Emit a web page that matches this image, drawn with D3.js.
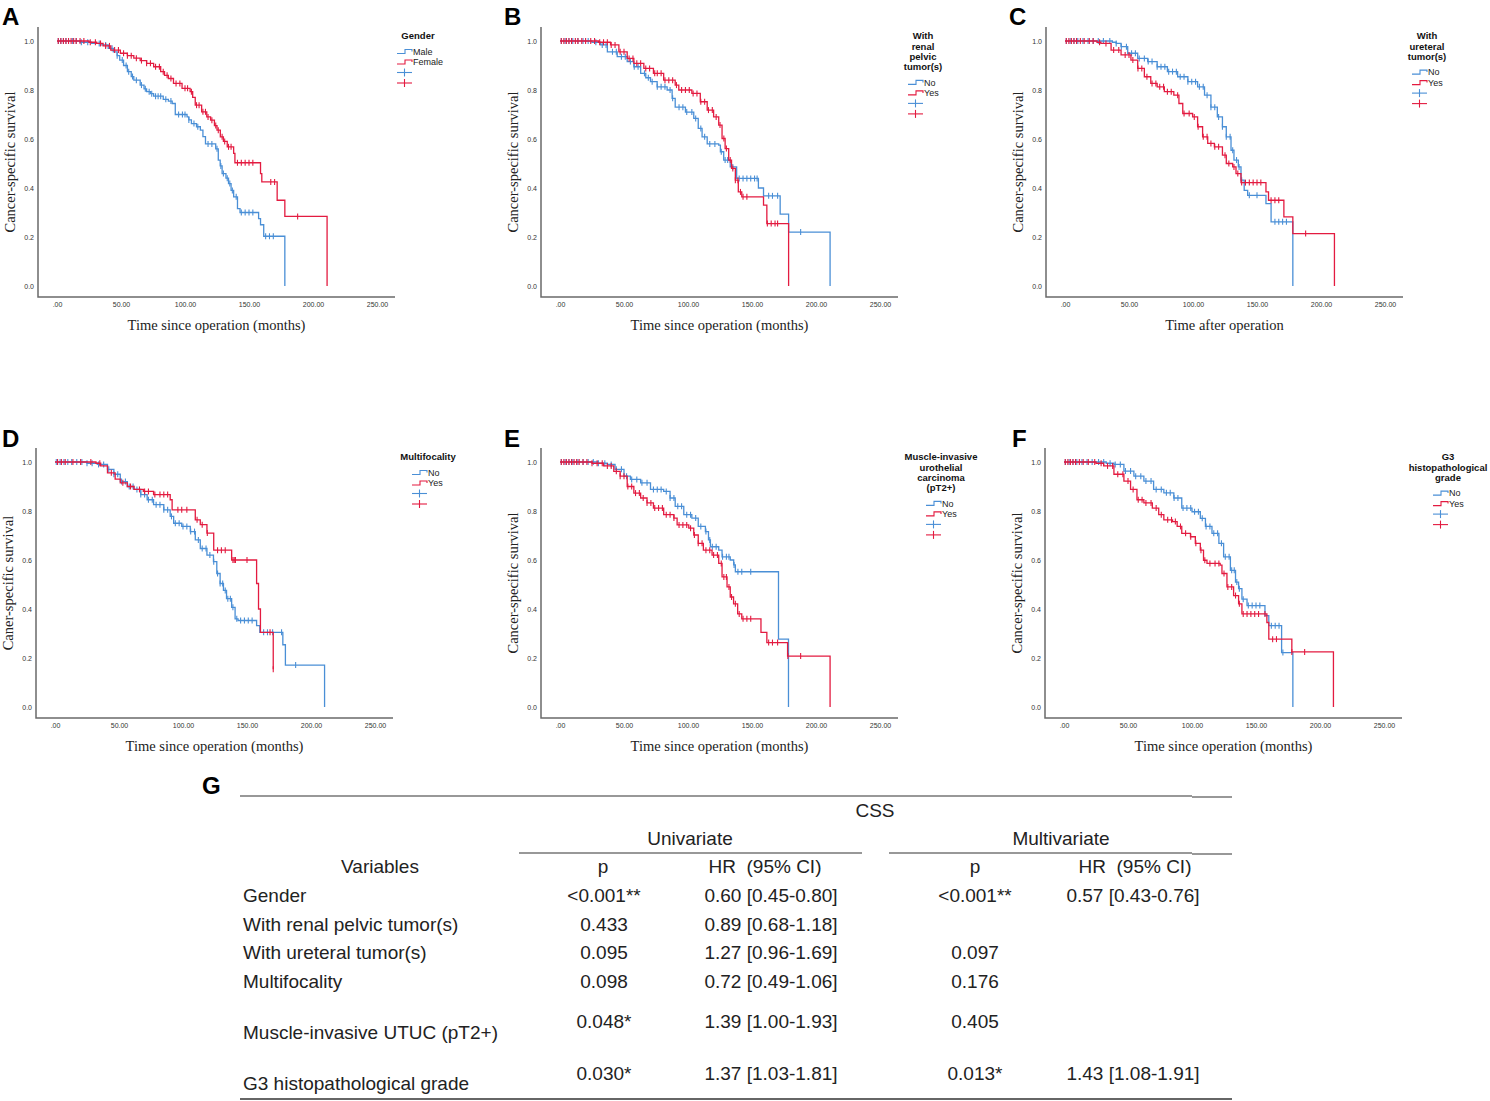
<!DOCTYPE html>
<html>
<head>
<meta charset="utf-8">
<script src="https://cdn.jsdelivr.net/npm/d3@7"></script>
<style>
  body { margin: 0; background: #fff; }
  svg text { font-family: "Liberation Sans", Arial, sans-serif; }
  svg text.serif { font-family: "Liberation Serif", "Times New Roman", serif; }
</style>
</head>
<body>
<svg id="fig" width="1490" height="1101"></svg>
<script>
// axis ticks
const xTicks = [0, 50, 100, 150, 200, 250];
const xTickLabels = [".00", "50.00", "100.00", "150.00", "200.00", "250.00"];
const yTicks = [0, 0.2, 0.4, 0.6, 0.8, 1.0];
const yTickLabels = ["0.0", "0.2", "0.4", "0.6", "0.8", "1.0"];

// survival steps: [month, survival after drop]
const aMale = [[0,1],[18,0.995],[27,0.99],[34,0.984],[40,0.97],[44,0.956],[47,0.94],[49,0.922],[52,0.9],[55,0.875],[58,0.855],[60,0.84],[65,0.82],[68,0.805],[70,0.793],[73,0.785],[75.5,0.775],[83,0.762],[87,0.755],[90,0.745],[92.4,0.70],[101.6,0.69],[103,0.678],[105,0.663],[109,0.65],[112,0.636],[114,0.61],[116,0.58],[124,0.56],[126,0.514],[127.5,0.49],[129,0.459],[132,0.44],[134,0.418],[136,0.39],[138,0.364],[141,0.316],[143,0.30],[157.5,0.275],[159,0.25],[161.5,0.203],[178,0]];
const aFemale = [[0,1],[25,0.995],[31,0.99],[36,0.98],[42,0.963],[49.5,0.95],[55,0.94],[60,0.93],[65,0.92],[70,0.909],[75.5,0.895],[81,0.875],[84,0.86],[87,0.847],[91,0.827],[97.7,0.807],[104,0.793],[106,0.77],[108,0.738],[113,0.711],[117,0.69],[120,0.677],[123,0.655],[125,0.636],[127.6,0.609],[130,0.59],[133,0.568],[138,0.541],[139,0.503],[159,0.459],[160,0.425],[172,0.35],[178,0.284],[211,0]];
const bNo = [[0,1],[25,0.995],[31.7,0.984],[37,0.956],[44.7,0.936],[52.5,0.916],[57.7,0.895],[63,0.868],[67,0.85],[70.7,0.834],[75.9,0.813],[83.7,0.80],[87.6,0.766],[90,0.73],[98,0.71],[104.5,0.684],[108,0.643],[111,0.609],[115,0.58],[124,0.575],[125.3,0.548],[127.9,0.514],[133,0.486],[138,0.439],[155,0.40],[159,0.368],[172,0.293],[178.6,0.22],[211,0]];
const bYes = [[0,1],[30,0.995],[39.5,0.984],[46,0.956],[52.5,0.929],[57.7,0.909],[65.5,0.888],[73,0.868],[81,0.84],[90,0.82],[92.8,0.80],[103,0.786],[109.6,0.752],[115,0.718],[120,0.69],[124,0.657],[126.6,0.602],[129,0.561],[131.8,0.514],[134,0.48],[137,0.432],[139.3,0.384],[142,0.364],[159,0.33],[161.6,0.255],[178.6,0]];
const cNo = [[0,1],[37,0.995],[40,0.99],[43.8,0.977],[49,0.95],[56.8,0.929],[64.6,0.916],[72,0.895],[80,0.875],[88,0.854],[96,0.834],[103.6,0.813],[109,0.779],[114,0.73],[119,0.69],[123,0.65],[126,0.609],[129.7,0.554],[132,0.514],[135.4,0.486],[137.5,0.432],[140,0.39],[142.7,0.37],[157,0.336],[161,0.262],[178,0]];
const cYes = [[0,1],[25,0.995],[28,0.99],[36,0.963],[43.8,0.943],[51.5,0.922],[56.8,0.888],[62,0.854],[67,0.827],[72,0.813],[77.6,0.793],[85,0.779],[89,0.745],[92,0.704],[99.7,0.69],[103.6,0.65],[107.5,0.609],[111.5,0.582],[116.7,0.568],[123,0.534],[126,0.50],[131,0.486],[133.6,0.459],[137.5,0.422],[157,0.384],[159,0.35],[171,0.282],[178,0.214],[210.5,0]];
const dNo = [[0,1],[25,0.995],[33,0.99],[41,0.97],[46,0.95],[51,0.92],[56.5,0.90],[61.7,0.888],[67,0.867],[72,0.846],[77,0.826],[85,0.805],[90,0.778],[92.7,0.75],[99,0.737],[105.7,0.716],[109.6,0.682],[113.5,0.647],[118.7,0.62],[123.8,0.593],[126.4,0.545],[129,0.504],[131.6,0.476],[134,0.442],[138,0.407],[140.7,0.36],[143,0.353],[157.5,0.332],[160,0.305],[178,0.254],[180,0.171],[210.6,0]];
const dYes = [[0,1],[32,0.995],[35.7,0.984],[41,0.956],[47,0.93],[51,0.915],[56.5,0.90],[61.7,0.888],[69,0.88],[77,0.867],[90,0.846],[91.5,0.805],[109.6,0.764],[113.5,0.744],[118.7,0.71],[124,0.64],[138,0.60],[157.5,0.504],[159,0.40],[160.5,0.305],[170.5,0.154]];
const eNo = [[0,1],[30,0.995],[37,0.99],[43,0.97],[50,0.942],[55,0.929],[63,0.915],[70.7,0.888],[81,0.88],[86,0.853],[90,0.819],[96.7,0.785],[103,0.771],[108,0.737],[113.6,0.716],[116,0.682],[117.5,0.654],[124,0.64],[126.6,0.613],[133,0.60],[135.7,0.58],[137,0.552],[170.7,0.277],[178.5,0]];
const eYes = [[0,1],[25,0.995],[34,0.984],[42,0.962],[47,0.942],[52.5,0.90],[57.7,0.873],[63,0.853],[68,0.833],[73,0.812],[81,0.785],[89,0.771],[91.5,0.743],[100.6,0.73],[104.5,0.702],[108,0.668],[112,0.64],[118.8,0.62],[124,0.586],[126.6,0.531],[130.5,0.49],[133,0.449],[135.6,0.421],[138.8,0.38],[142,0.36],[157,0.305],[161.6,0.263],[177.8,0.208],[211,0]];
const fNo = [[0,1],[33,0.995],[39,0.99],[46.8,0.963],[54.6,0.942],[62.4,0.922],[70,0.888],[78,0.874],[85.8,0.853],[92,0.812],[100,0.797],[106.5,0.77],[110.5,0.737],[115.6,0.709],[121,0.668],[124.7,0.613],[130,0.558],[134,0.51],[136.4,0.483],[139,0.44],[143,0.414],[157,0.373],[160,0.332],[170,0.222],[178.8,0]];
const fYes = [[0,1],[25,0.995],[31,0.984],[39,0.95],[46.8,0.922],[52,0.888],[57,0.846],[62.4,0.833],[69,0.812],[74,0.785],[78,0.764],[84.8,0.757],[88.4,0.737],[92,0.709],[98.8,0.695],[102.6,0.668],[106.5,0.64],[109,0.599],[111.7,0.586],[122,0.579],[123.4,0.545],[127.3,0.49],[132.5,0.455],[136.4,0.421],[139,0.38],[158.5,0.345],[160,0.277],[178,0.225],[210.5,0]];

// censored times (months)
const aMaleC = [1,3,5,7,9,12,15,19,24,33,38,43,47,51,54,56,59,62,66,69,72,74,77,79,81,85,89,95,98,100,103,107,110,118,121,125,128,130,133,135,137,140,144,147,150,153,163,166,169];
const aFemaleC = [1,3,5,7,9,11,13,15,18,21,26,30,34,38,41,45,48,52,55,58,62,66,70,73,77,80,83,86,89,93,96,100,102,105,109,111,114,116,118,121,124,126,129,131,134,136,141,144,147,150,153,167,170,188];
const bNoC = [1,4,7,10,14,18,22,28,33,36,41,44,48,51,55,58,61,66,69,72,76,79,82,86,88,93,96,99,103,106,110,113,117,121,126,129,131,135,140,143,146,149,152,154,163,166,170,188];
const bYesC = [1,3,5,7,9,12,14,17,20,24,27,31,34,37,40,43,47,50,54,57,60,63,67,70,74,76,79,82,85,88,91,95,98,101,104,107,110,113,116,119,122,125,128,130,133,135,137,139,141,143,146,162,165,168,170];
const cNoC = [1,4,7,10,14,18,22,26,30,35,40,44,48,52,55,58,62,65,68,72,75,78,81,84,87,90,93,96,99,102,105,108,111,114,117,120,123,126,129,131,134,136,138,144,150,164,167,170,173];
const cYesC = [1,3,5,7,9,12,15,19,22,27,32,38,42,47,50,53,57,60,64,68,71,74,77,80,83,88,93,97,101,104,108,111,114,117,120,125,128,132,135,138,141,144,147,150,153,161,164,167,188];
const dNoC = [1,4,7,10,13,17,21,25,29,34,38,42,46,49,52,55,58,61,64,67,70,73,76,79,82,85,88,91,94,97,100,103,106,109,112,115,118,121,124,127,129,131,133,135,137,139,142,145,148,151,154,163,166,170,177,188];
const dYesC = [2,5,8,14,20,28,35,44,53,59,66,70,73,78,82,85,88,96,99,103,111,115,119,127,130,133,139,140,141,150,168,170.5];
const eNoC = [1,4,7,10,14,18,22,26,30,35,40,44,48,52,56,60,64,68,73,76,79,83,86,89,92,95,99,102,106,110,114,117,119,122,127,130,132,136,139,142,149];
const eYesC = [1,3,5,7,9,11,13,15,18,21,25,29,33,37,40,44,47,50,53,56,59,62,65,68,71,74,77,80,83,86,89,93,96,99,102,105,108,111,114,117,120,123,126,128,130,132,134,137,140,143,146,149,163,166,170,178,188];
const fNoC = [1,4,7,10,14,18,22,27,31,36,40,44,48,52,56,60,64,68,72,76,80,83,86,89,93,96,99,102,105,108,111,114,117,120,123,126,129,131,133,135,137,140,144,147,150,153,162,165,168,171];
const fYesC = [1,3,5,7,9,12,15,19,24,29,34,38,42,46,50,54,58,61,64,68,72,76,81,84,87,91,95,99,103,107,110,114,118,121,125,128,131,134,137,140,143,146,149,152,157,163,166,178,188];

// table G
const tableVars = ["Gender", "With renal pelvic tumor(s)", "With ureteral tumor(s)", "Multifocality", "Muscle-invasive UTUC (pT2+)", "G3 histopathological grade"];
const uniP = ["<0.001**", "0.433", "0.095", "0.098", "0.048*", "0.030*"];
const uniHR = ["0.60 [0.45-0.80]", "0.89 [0.68-1.18]", "1.27 [0.96-1.69]", "0.72 [0.49-1.06]", "1.39 [1.00-1.93]", "1.37 [1.03-1.81]"];
const multiP = ["<0.001**", "", "0.097", "0.176", "0.405", "0.013*"];
const multiHR = ["0.57 [0.43-0.76]", "", "", "", "", "1.43 [1.08-1.91]"];

const blue = "#4a8fd6";
const red = "#e31b40";
const axisGray = "#6a6a6a";

const svg = d3.select("#fig");

const panels = [
  { id: "A", x0: 38, top: 27, lab: [2, 25], ytitle: "Cancer-specific survival", xtitle: "Time since operation (months)",
    legTitle: ["Gender"], legCx: 418, legSym: 412, groups: ["Male", "Female"], s: [aMale, aFemale], c: [aMaleC, aFemaleC] },
  { id: "B", x0: 541, top: 27, lab: [504, 25], ytitle: "Cancer-specific survival", xtitle: "Time since operation (months)",
    legTitle: ["With", "renal", "pelvic", "tumor(s)"], legCx: 923, legSym: 923, groups: ["No", "Yes"], s: [bNo, bYes], c: [bNoC, bYesC] },
  { id: "C", x0: 1046, top: 27, lab: [1009, 25], ytitle: "Cancer-specific survival", xtitle: "Time after operation",
    legTitle: ["With", "ureteral", "tumor(s)"], legCx: 1427, legSym: 1427, groups: ["No", "Yes"], s: [cNo, cYes], c: [cNoC, cYesC] },
  { id: "D", x0: 36, top: 448, lab: [2, 447], ytitle: "Caner-specific survival", xtitle: "Time since operation (months)",
    legTitle: ["Multifocality"], legCx: 428, legSym: 427, groups: ["No", "Yes"], s: [dNo, dYes], c: [dNoC, dYesC] },
  { id: "E", x0: 541, top: 448, lab: [504, 447], ytitle: "Cancer-specific survival", xtitle: "Time since operation (months)",
    legTitle: ["Muscle-invasive", "urothelial", "carcinoma", "(pT2+)"], legCx: 941, legSym: 941, groups: ["No", "Yes"], s: [eNo, eYes], c: [eNoC, eYesC] },
  { id: "F", x0: 1045, top: 448, lab: [1012, 447], ytitle: "Cancer-specific survival", xtitle: "Time since operation (months)",
    legTitle: ["G3", "histopathological", "grade"], legCx: 1448, legSym: 1448, groups: ["No", "Yes"], s: [fNo, fYes], c: [fNoC, fYesC] }
];

const axisW = 357, axisH = 270;

function stepAt(steps, t) {
  let v = steps[0][1];
  for (const p of steps) { if (p[0] <= t) v = p[1]; else break; }
  return v;
}

panels.forEach((p) => {
  const g = svg.append("g");
  const bottom = p.top + axisH;
  const x = d3.scaleLinear().domain([0, 250]).range([p.x0 + 19, p.x0 + 339]);
  const y = d3.scaleLinear().domain([0, 1]).range([bottom - 11, p.top + 14]);

  // panel letter
  svg.append("text").attr("x", p.lab[0]).attr("y", p.lab[1])
    .attr("font-size", 24).attr("font-weight", "bold").attr("fill", "#000").text(p.id);

  // axis lines
  g.append("path")
    .attr("d", `M${p.x0},${p.top}V${bottom}H${p.x0 + axisW}`)
    .attr("fill", "none").attr("stroke", axisGray).attr("stroke-width", 1.5);

  const xAxis = g.append("g").attr("transform", `translate(0,${bottom})`)
    .call(d3.axisBottom(x).tickValues(xTicks).tickSize(0).tickPadding(5)
      .tickFormat((d, i) => xTickLabels[i]));
  const yAxis = g.append("g").attr("transform", `translate(${p.x0},0)`)
    .call(d3.axisLeft(y).tickValues(yTicks).tickSize(0).tickPadding(4)
      .tickFormat((d, i) => yTickLabels[i]));
  [xAxis, yAxis].forEach((a) => {
    a.select(".domain").remove();
    a.selectAll("text").attr("font-size", 7).attr("fill", "#333");
  });

  // axis titles (serif)
  g.append("text").attr("class", "serif")
    .attr("transform", `translate(${p.x0 - 28},${p.top + axisH / 2}) rotate(-90)`)
    .attr("text-anchor", "middle").attr("dy", "0.35em")
    .attr("font-size", 14.5).attr("fill", "#222").text(p.ytitle);
  g.append("text").attr("class", "serif")
    .attr("x", p.x0 + axisW / 2).attr("y", bottom + 28)
    .attr("text-anchor", "middle").attr("dy", "0.35em")
    .attr("font-size", 14.5).attr("fill", "#222").text(p.xtitle);

  // curves
  const line = d3.line().x((d) => x(d[0])).y((d) => y(d[1])).curve(d3.curveStepAfter);
  const colors = [blue, red];
  [0, 1].forEach((k) => {
    g.append("path").datum(p.s[k])
      .attr("d", line).attr("fill", "none")
      .attr("stroke", colors[k]).attr("stroke-width", 1.3);
    g.selectAll(null).data(p.c[k]).enter().append("line")
      .attr("x1", (d) => x(d)).attr("x2", (d) => x(d))
      .attr("y1", (d) => y(stepAt(p.s[k], d)) - 3)
      .attr("y2", (d) => y(stepAt(p.s[k], d)) + 3)
      .attr("stroke", colors[k]).attr("stroke-width", 1.1);
  });

  // legend
  const lg = g.append("g");
  p.legTitle.forEach((t, i) => {
    lg.append("text").attr("x", p.legCx).attr("y", p.top + 9 + i * 10.3)
      .attr("dy", "0.35em").attr("text-anchor", "middle")
      .attr("font-size", 9.5).attr("font-weight", "bold").attr("fill", "#111").text(t);
  });
  const itemY0 = p.top + 9 + (p.legTitle.length - 1) * 10.3 + 15.5;
  const sx = p.legSym - 15;
  [0, 1].forEach((k) => {
    const yy = itemY0 + k * 10.5;
    lg.append("path")
      .attr("d", `M${sx},${yy + 2}H${sx + 8}V${yy - 2}H${sx + 15}V${yy}`)
      .attr("fill", "none").attr("stroke", colors[k]).attr("stroke-width", 1.1);
    lg.append("text").attr("x", p.legSym + 1).attr("y", yy)
      .attr("dy", "0.35em").attr("font-size", 9).attr("fill", "#222").text(p.groups[k]);
    const cy = itemY0 + (k + 2) * 10.5;
    lg.append("line").attr("x1", sx).attr("x2", sx + 15).attr("y1", cy).attr("y2", cy)
      .attr("stroke", colors[k]).attr("stroke-width", 1.1);
    lg.append("line").attr("x1", sx + 7.5).attr("x2", sx + 7.5).attr("y1", cy - 4).attr("y2", cy + 4)
      .attr("stroke", colors[k]).attr("stroke-width", 1.1);
  });
});

// ---- table G ----
const tg = svg.append("g").attr("fill", "#222");
svg.append("text").attr("x", 202).attr("y", 794)
  .attr("font-size", 24).attr("font-weight", "bold").attr("fill", "#000").text("G");

const rule = (x1, x2, yy, w) => tg.append("line")
  .attr("x1", x1).attr("x2", x2).attr("y1", yy).attr("y2", yy)
  .attr("stroke", "#333").attr("stroke-width", w);
rule(240, 1192, 796, 1.2);
rule(1192, 1232, 797, 1.2);
rule(519, 862, 853, 1.2);
rule(889, 1192, 853, 1.2);
rule(1192, 1232, 854, 1.2);
rule(240, 1232, 1099, 1.5);

const txt = (s, xx, yy, anchor) => tg.append("text")
  .attr("x", xx).attr("y", yy).attr("dy", "0.35em")
  .attr("text-anchor", anchor || "middle").attr("font-size", 19).text(s);

txt("CSS", 875, 810);
txt("Univariate", 690, 838);
txt("Multivariate", 1061, 838);
txt("Variables", 380, 866);
txt("p", 603, 866);
txt("HR\u00a0\u00a0(95% CI)", 765, 866);
txt("p", 975, 866);
txt("HR\u00a0\u00a0(95% CI)", 1135, 866);

const valueY = [895, 924, 952, 981, 1021, 1073];
const labelY = [895, 924, 952, 981, 1032, 1083];
tableVars.forEach((v, i) => {
  txt(v, 243, labelY[i], "start");
  txt(uniP[i], 604, valueY[i]);
  txt(uniHR[i], 771, valueY[i]);
  if (multiP[i]) txt(multiP[i], 975, valueY[i]);
  if (multiHR[i]) txt(multiHR[i], 1133, valueY[i]);
});
</script>
</body>
</html>
